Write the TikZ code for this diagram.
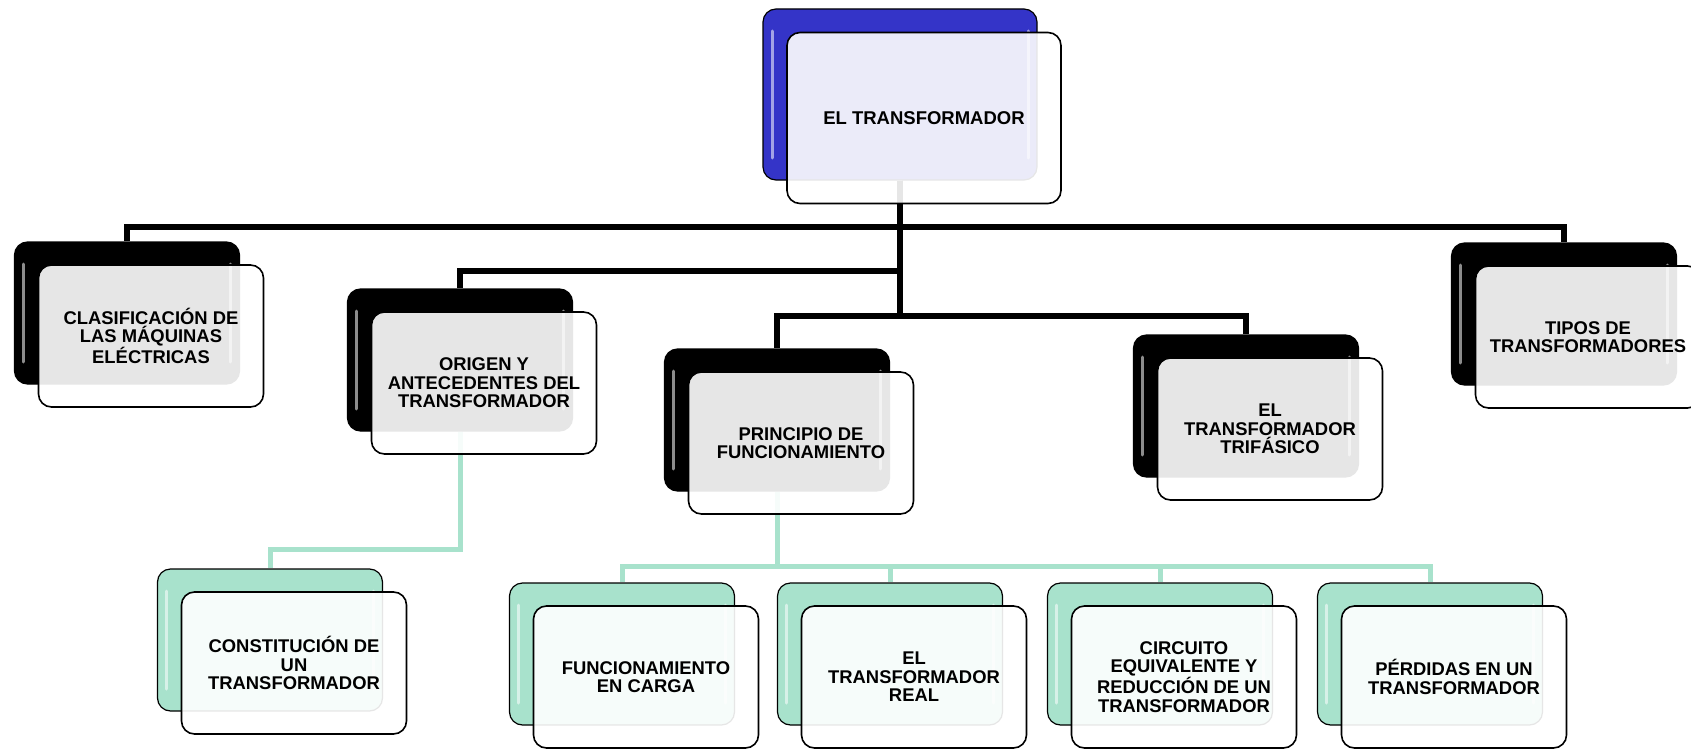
\documentclass[tikz,border=0pt]{standalone}
\usepackage{fontspec}
\setmainfont{Liberation Sans}
\usepackage{tikz}
\usetikzlibrary{positioning}
\definecolor{rootblue}{RGB}{52,52,200}
\definecolor{subgreen}{RGB}{168,226,204}

\begin{document}
\begin{tikzpicture}[x=1pt,y=-1pt,
  every node/.style={font=\bfseries\fontsize{18.4}{18.4}\selectfont,align=center},
  back/.style={draw,line width=1.2pt,rounded corners=13pt,
    minimum width=225pt,minimum height=142pt,
    path picture={
      \draw[white,opacity=.55,line width=3pt,line cap=round]
        ([shift={(9pt,-22pt)}]path picture bounding box.north west) --
        ([shift={(9pt,22pt)}]path picture bounding box.south west)
        ([shift={(-9pt,-22pt)}]path picture bounding box.north east) --
        ([shift={(-9pt,22pt)}]path picture bounding box.south east);
    }},
  front/.style={draw,line width=1.6pt,rounded corners=13pt,fill=white,
    fill opacity=.9,text opacity=1,minimum width=225pt,minimum height=142pt},
  big/.style={minimum width=274pt,minimum height=171pt},
  blk/.style={line width=6pt},
  grn/.style={line width=5pt,draw=subgreen}
]
  \useasboundingbox (0,0) rectangle (1691,749);

  % shadow boxes
  \node[back,big,fill=rootblue] (rootb) at (900,94.5) {};
  \node[back,fill=black] (clasifb) at (127,313) {};
  \node[back,fill=black] (origenb) at (460,360) {};
  \node[back,fill=black] (princb) at (777,420) {};
  \node[back,fill=black] (trifb) at (1246,406) {};
  \node[back,fill=black] (tiposb) at (1564,314) {};
  \node[back,fill=subgreen] (constb) at (270,640) {};
  \node[back,fill=subgreen] (cargab) at (622,654) {};
  \node[back,fill=subgreen] (realb) at (890,654) {};
  \node[back,fill=subgreen] (circb) at (1160,654) {};
  \node[back,fill=subgreen] (perdb) at (1430,654) {};

  % connectors
  \draw[blk] (rootb.south) -- ++(0,46) -| (clasifb.north);
  \draw[blk] (rootb.south) -- ++(0,46) -| (tiposb.north);
  \draw[blk] (rootb.south) -- ++(0,90) -| (origenb.north);
  \draw[blk] (rootb.south) -- ++(0,135) -| (princb.north);
  \draw[blk] (rootb.south) -- ++(0,135) -| (trifb.north);
  \draw[grn] (origenb.south) -- ++(0,118) -| (constb.north);
  \foreach \n in {cargab,realb,circb,perdb}
    \draw[grn] (princb.south) -- ++(0,75) -| (\n.north);

  % front boxes
  \node[front,big,font=\bfseries\fontsize{18.5}{19}\selectfont] (root) at (924,118)
    {EL TRANSFORMADOR};
  \node[front] (clasif) at (151,336) {CLASIFICACIÓN DE\\LAS MÁQUINAS\\ELÉCTRICAS};
  \node[front] (origen) at (484,383) {ORIGEN Y\\ANTECEDENTES DEL\\TRANSFORMADOR};
  \node[front] (princ) at (801,443) {PRINCIPIO DE\\FUNCIONAMIENTO};
  \node[front] (trif) at (1270,429) {EL\\TRANSFORMADOR\\TRIFÁSICO};
  \node[front] (tipos) at (1588,337) {TIPOS DE\\TRANSFORMADORES};
  \node[front] (const) at (294,663) {CONSTITUCIÓN DE\\UN\\TRANSFORMADOR};
  \node[front] (carga) at (646,677) {FUNCIONAMIENTO\\EN CARGA};
  \node[front] (real) at (914,677) {EL\\TRANSFORMADOR\\REAL};
  \node[front] (circ) at (1184,677)
    {CIRCUITO\\EQUIVALENTE Y\\REDUCCIÓN DE UN\\TRANSFORMADOR};
  \node[front] (perd) at (1454,677) {PÉRDIDAS EN UN\\TRANSFORMADOR};
\end{tikzpicture}
\end{document}
